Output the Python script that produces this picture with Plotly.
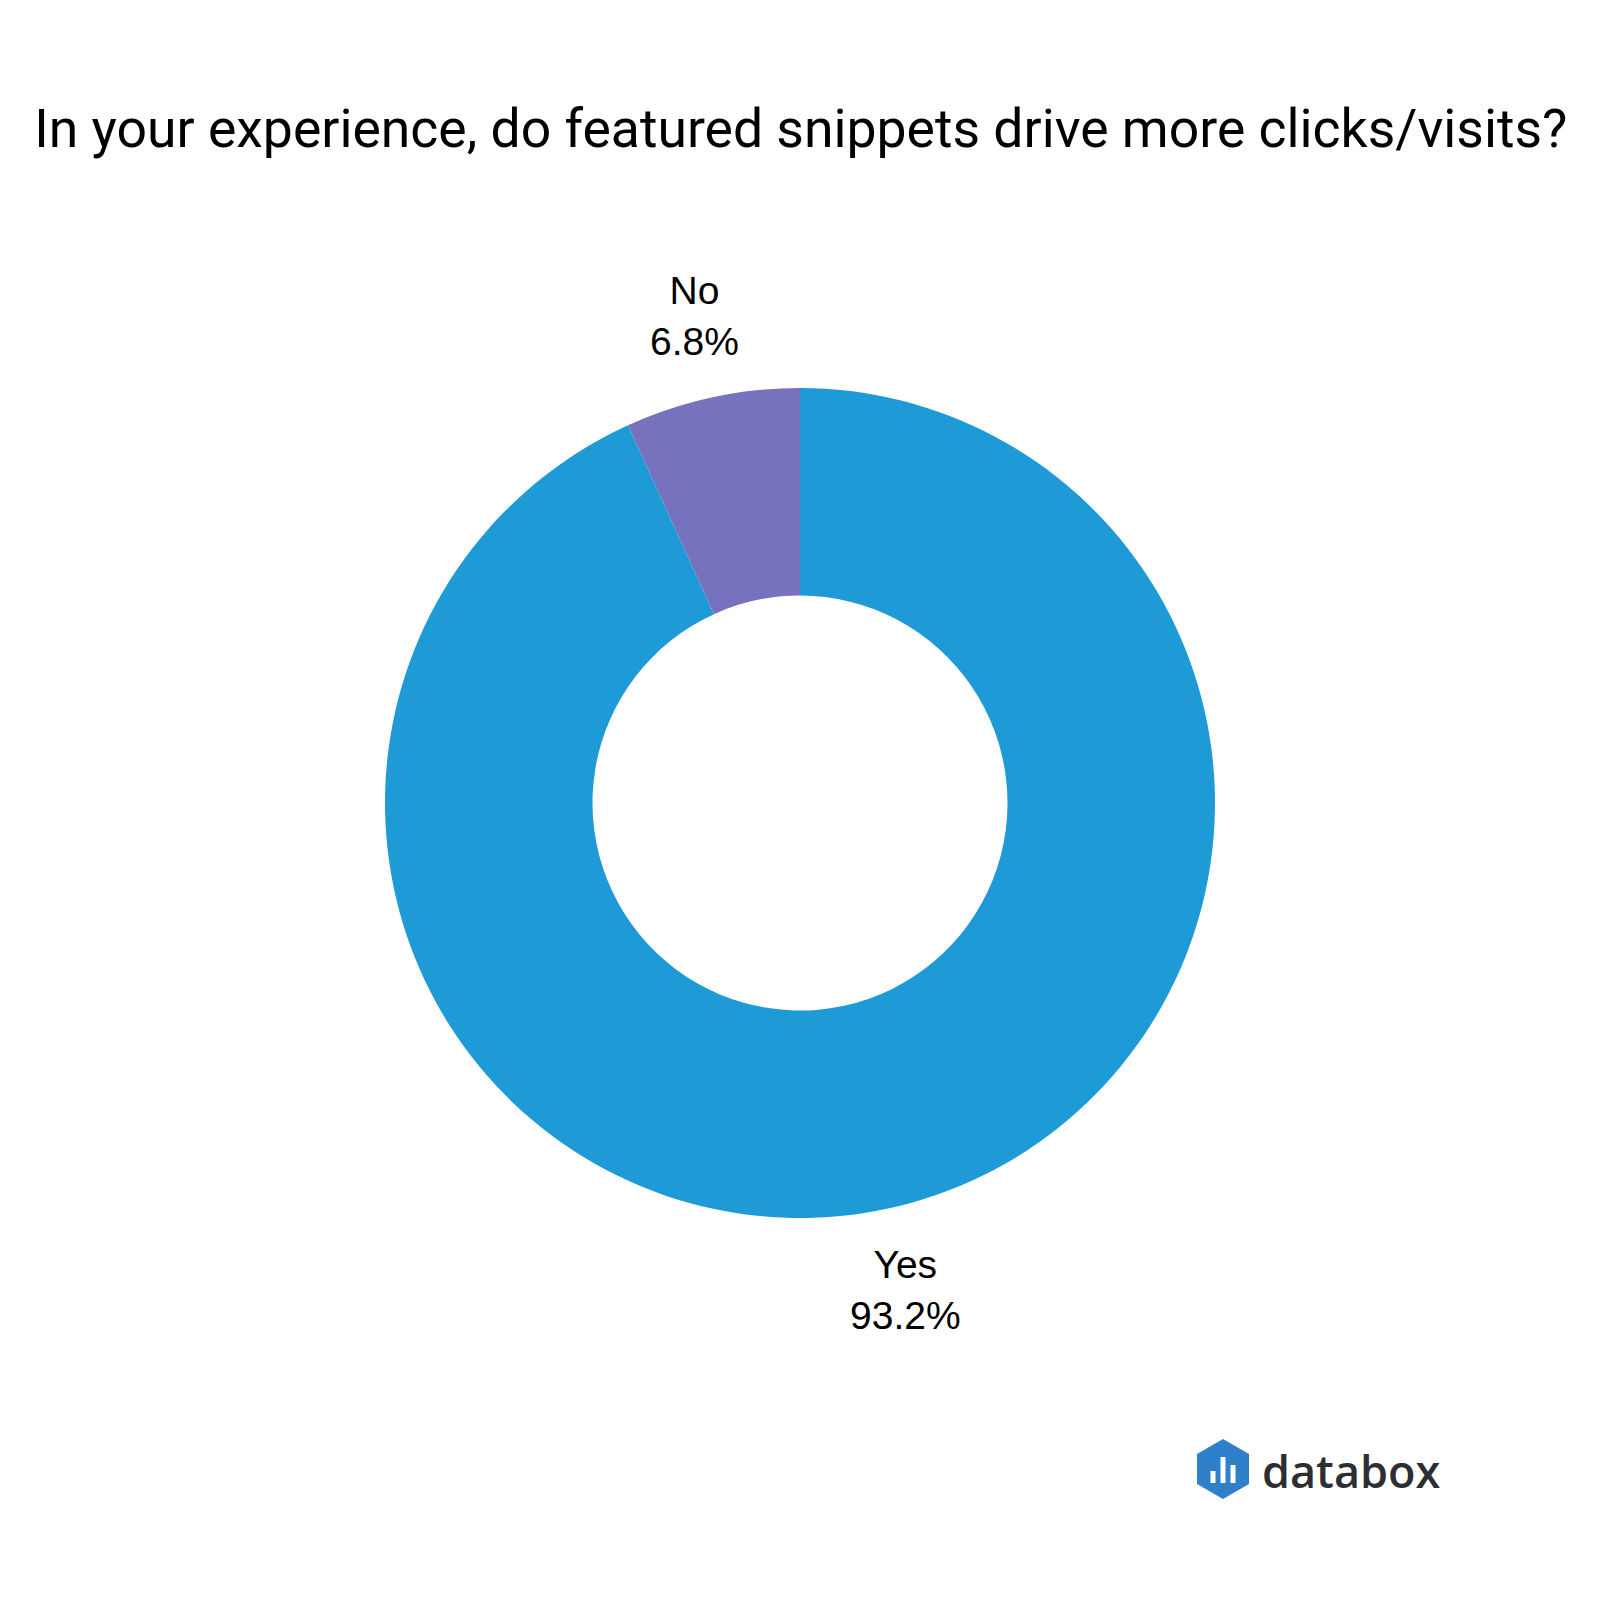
import math
import plotly.graph_objects as go

labels = ["Yes", "No"]
values = [93.2, 6.8]
colors = ["#1E9AD6", "#7672BD"]
title_text = "In your experience, do featured snippets drive more clicks/visits?"

W = H = 1600
cx, cy, r = 792, 795, 415  # pixel geometry of pie
label_r = 1.2 * r

fig = go.Figure()
fig.add_trace(go.Pie(
    labels=labels,
    values=values,
    hole=0.5,
    sort=False,
    direction="clockwise",
    rotation=0,
    marker=dict(colors=colors, line=dict(width=0)),
    textinfo="none",
    showlegend=False,
    hoverinfo="skip",
    domain=dict(x=[(cx - r) / W, (cx + r) / W],
                y=[(H - cy - r) / H, (H - cy + r) / H]),
))

# outside labels placed from the slice mid-angles (clockwise from 12 o'clock)
total = sum(values)
cum = 0.0
for lab, v in zip(labels, values):
    mid = (cum + v / 2) / total * 2 * math.pi
    cum += v
    lx = cx + label_r * math.sin(mid)
    ly = cy - label_r * math.cos(mid)
    fig.add_annotation(text=f"{lab}<br>{v / total:.1%}", xref="paper", yref="paper",
                       x=lx / W, y=1 - ly / H, xanchor="center", yanchor="middle",
                       showarrow=False, align="center",
                       font=dict(family="Liberation Sans, Arial", size=39, color="#000000"))

# databox logo
def px(x):
    return x / W
def py(y):
    return 1 - y / H

hx, hy, hw, hh = 1215, 1461, 52, 60
pts = [(hx, hy - hh / 2), (hx + hw / 2, hy - hh / 4), (hx + hw / 2, hy + hh / 4),
       (hx, hy + hh / 2), (hx - hw / 2, hy + hh / 4), (hx - hw / 2, hy - hh / 4)]
path = "M " + " L ".join(f"{px(x):.5f},{py(y):.5f}" for x, y in pts) + " Z"
fig.add_shape(type="path", xref="paper", yref="paper", path=path,
              fillcolor="#2F7FCB", line=dict(width=0))
for bx, top in [(hx - 10, hy + 2), (hx, hy - 12), (hx + 10, hy - 4)]:
    fig.add_shape(type="rect", xref="paper", yref="paper",
                  x0=px(bx - 2.5), x1=px(bx + 2.5), y0=py(hy + 14), y1=py(top),
                  fillcolor="#FFFFFF", line=dict(width=0))
fig.add_annotation(text="databox", xref="paper", yref="paper",
                   x=px(1252), y=py(1462), xanchor="left", yanchor="middle",
                   showarrow=False,
                   font=dict(family="Open Sans", size=45, weight=600, color="#2B2E33"))

fig.update_layout(
    width=W, height=H,
    margin=dict(l=0, r=0, t=0, b=0),
    paper_bgcolor="white",
    plot_bgcolor="white",
    title=dict(text=title_text, x=0.4955, xanchor="center", y=1 - 120 / H, yanchor="middle",
               font=dict(family="Roboto", size=53.5, color="#000000")),
)

fig.write_html("out.html")
